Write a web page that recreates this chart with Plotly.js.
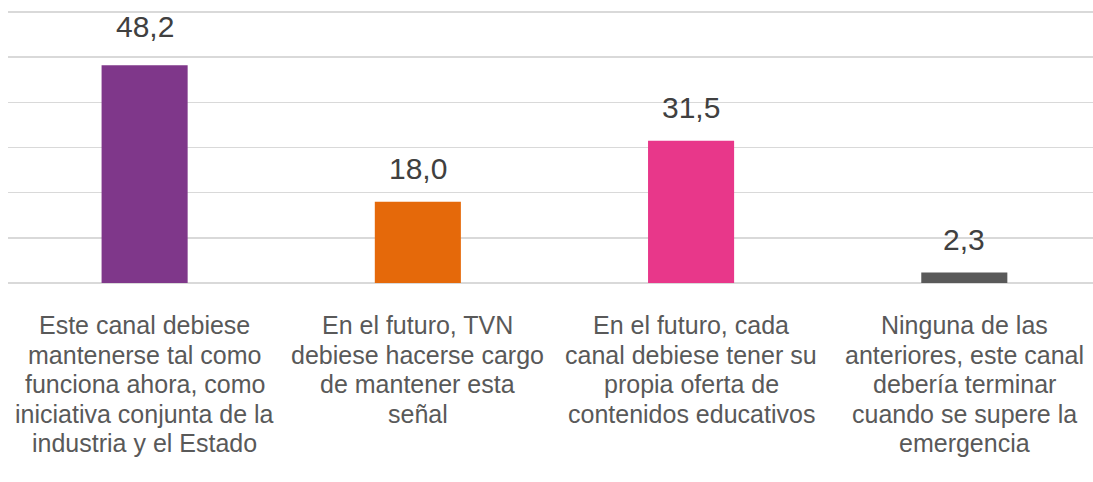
<!DOCTYPE html>
<html>
<head>
<meta charset="utf-8">
<script src="https://cdn.plot.ly/plotly-3.0.1.min.js"></script>
<style>html,body{margin:0;padding:0;background:#fff;}#chart{width:1093px;height:482px;}</style>
</head>
<body>
<div id="chart"></div>
<script>
const categories = ["c1", "c2", "c3", "c4"];
const categoryLines = [
  ["Este canal debiese", "mantenerse tal como", "funciona ahora, como", "iniciativa conjunta de la", "industria y el Estado"],
  ["En el futuro, TVN", "debiese hacerse cargo", "de mantener esta", "señal"],
  ["En el futuro, cada", "canal debiese tener su", "propia oferta de", "contenidos educativos"],
  ["Ninguna de las", "anteriores, este canal", "debería terminar", "cuando se supere la", "emergencia"]
];
const values = [48.2, 18.0, 31.5, 2.3];
const valueLabels = ["48,2", "18,0", "31,5", "2,3"];
const colors = ["#7F378A", "#E5690A", "#E8378A", "#595959"];
const labelShift = [20, 15, 15, 15];

const FONT = "'Liberation Sans', Arial, sans-serif";
const annotations = [];
categories.forEach((c, i) => {
  annotations.push({
    x: c, y: values[i], xref: 'x', yref: 'y',
    text: valueLabels[i], showarrow: false,
    yanchor: 'bottom', yshift: labelShift[i],
    font: {family: FONT, size: 30, color: '#404040'}
  });
  categoryLines[i].forEach((line, j) => {
    annotations.push({
      x: c, y: 0, xref: 'x', yref: 'y',
      text: line, showarrow: false,
      yanchor: 'middle', yshift: -(42 + j * 29.6),
      font: {family: FONT, size: 25, color: '#595959'}
    });
  });
});

const trace = {
  type: 'bar',
  x: categories,
  y: values,
  marker: {color: colors},
  width: 0.315,
  hoverinfo: 'none'
};

const layout = {
  width: 1093, height: 482,
  margin: {l: 8, r: 0, t: 6, b: 199, pad: 0},
  paper_bgcolor: '#fff', plot_bgcolor: '#fff',
  showlegend: false,
  xaxis: {
    type: 'category', range: [-0.5, 3.471],
    showticklabels: false, showgrid: false, zeroline: false, showline: false, ticks: ''
  },
  yaxis: {
    range: [0, 61.33], tick0: 0, dtick: 10, showticklabels: false,
    showgrid: true, gridcolor: '#D9D9D9', gridwidth: 1.4,
    zeroline: true, zerolinecolor: '#D9D9D9', zerolinewidth: 1.4,
    showline: false, ticks: ''
  },
  annotations: annotations
};

Plotly.newPlot('chart', [trace], layout, {displayModeBar: false, staticPlot: true});
</script>
</body>
</html>
